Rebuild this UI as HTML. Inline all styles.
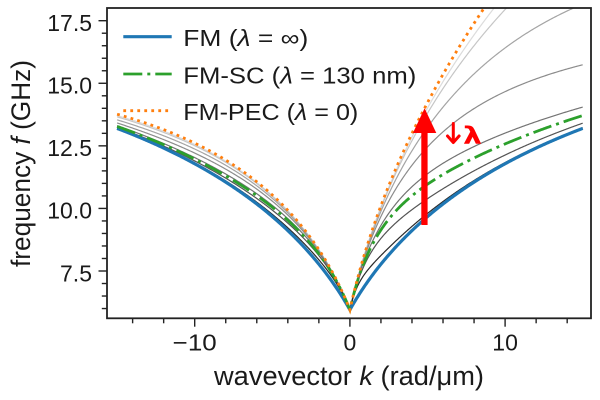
<!DOCTYPE html>
<html><head><meta charset="utf-8"><style>
html,body{margin:0;padding:0;background:#fff;}
svg{display:block;}
text{font-family:"Liberation Sans","DejaVu Sans",sans-serif;fill:#1a1a1a;}
</style></head><body>
<svg id="s" width="600" height="400" viewBox="0 0 600 400" xmlns="http://www.w3.org/2000/svg">
<defs><clipPath id="cp"><rect x="107" y="8" width="484" height="310.3"/></clipPath></defs>
<rect width="600" height="400" fill="#fff"/>
<g id="curves" fill="none" clip-path="url(#cp)"></g>
<!-- arrow -->
<rect x="421.3" y="131" width="6.3" height="94" fill="#ff0000"/>
<polygon points="412.9,133 436.3,133 424.6,108.3" fill="#ff0000"/>
<g stroke="#ff0000" stroke-width="3" fill="none" stroke-linecap="round" stroke-linejoin="round">
<line x1="453.3" y1="123.5" x2="453.3" y2="142"/>
<polyline points="447.5,136 453.3,142.5 459.1,136"/>
</g>
<text x="463" y="144" font-size="24" font-weight="bold" style="fill:#ff0000;font-family:'DejaVu Sans',sans-serif" textLength="19" lengthAdjust="spacingAndGlyphs">λ</text>
<!-- frame -->
<rect x="107" y="8" width="484" height="310.3" fill="none" stroke="#222" stroke-width="1.8"/>
<g id="ticks" stroke="#222" stroke-width="1.4"></g>
<!-- y tick labels -->
<g font-size="23" text-anchor="end">
<text x="92" y="31">17.5</text>
<text x="92" y="93.6">15.0</text>
<text x="92" y="156.2">12.5</text>
<text x="92" y="218.7">10.0</text>
<text x="92" y="281.3">7.5</text>
</g>
<!-- x tick labels -->
<g font-size="23" text-anchor="middle">
<text x="194.7" y="350.7" textLength="44" lengthAdjust="spacingAndGlyphs">−10</text>
<text x="349.9" y="350.7">0</text>
<text x="505.1" y="350.7">10</text>
</g>
<!-- axis labels -->
<text x="349" y="385" font-size="27" text-anchor="middle" textLength="270" lengthAdjust="spacingAndGlyphs">wavevector <tspan font-style="italic">k</tspan> (rad/μm)</text>
<text transform="translate(30,163.5) rotate(-90)" font-size="27" text-anchor="middle" textLength="207" lengthAdjust="spacingAndGlyphs">frequency <tspan font-style="italic">f</tspan> (GHz)</text>
<!-- legend -->
<line x1="123.3" y1="36.7" x2="171.7" y2="36.7" stroke="#1f77b4" stroke-width="3.2"/>
<line x1="123.3" y1="74" x2="171.7" y2="74" stroke="#2ca02c" stroke-width="2.8" stroke-dasharray="19 5 3 5"/>
<line x1="123.3" y1="110.7" x2="171.7" y2="110.7" stroke="#ff7f0e" stroke-width="2.8" stroke-dasharray="2.8 4.2"/>
<g font-size="23">
<text x="183.3" y="46" textLength="125" lengthAdjust="spacingAndGlyphs">FM (<tspan font-style="italic">λ</tspan> = ∞)</text>
<text x="183.3" y="83.3" textLength="233" lengthAdjust="spacingAndGlyphs">FM-SC (<tspan font-style="italic">λ</tspan> = 130 nm)</text>
<text x="183.3" y="120" textLength="175" lengthAdjust="spacingAndGlyphs">FM-PEC (<tspan font-style="italic">λ</tspan> = 0)</text>
</g>
</svg>
<script>
(function(){
var NS="http://www.w3.org/2000/svg";
var X=function(k){return 349.9+15.52*k;}, Y=function(f){return 20.7+(17.5-f)*25.03;};
function fm2(k){return 35.4+263*(1-Math.exp(-Math.abs(k)/20));}
function pec2(k){return k>=0?35.4+33.4*k:35.4+207*(1-Math.exp(k/11));}
function lam2(k,l){
  if(l===0) return pec2(k);
  if(l===Infinity) return fm2(k);
  var a=Math.abs(k), il=1/l, q=Math.sqrt(a*a+il*il), r=(q-a)/(q+a);
  var w=Math.pow(r, k>=0?1.15:0.7);
  return fm2(k)+w*(pec2(k)-fm2(k));
}
function path(l){
  var d="";
  for(var i=-300;i<=300;i++){
    var k=i/20, f=Math.sqrt(lam2(k,l));
    var y=Y(f); if(y<-50) y=-50;
    d+=(i===-300?"M":"L")+X(k).toFixed(2)+","+y.toFixed(2);
  }
  return d;
}
var g=document.getElementById("curves");
function add(l,attrs){
  var p=document.createElementNS(NS,"path");
  p.setAttribute("d",path(l));
  for(var a in attrs) p.setAttribute(a,attrs[a]);
  g.appendChild(p);
}
var grays=[[0.005,"#dcdcdc"],[0.01,"#c6c6c6"],[0.025,"#a4a4a4"],[0.05,"#8c8c8c"],[0.1,"#737373"],[0.2,"#545454"],[0.5,"#2a2a2a"]];
grays.forEach(function(gg){add(gg[0],{stroke:gg[1],"stroke-width":"1.2"});});
add(Infinity,{stroke:"#1f77b4","stroke-width":"3.2"});
add(0.13,{stroke:"#2ca02c","stroke-width":"2.8","stroke-dasharray":"19 5 3 5"});
add(0,{stroke:"#ff7f0e","stroke-width":"2.8","stroke-dasharray":"2.8 4.2"});
// ticks
var t=document.getElementById("ticks");
function line(x1,y1,x2,y2){var l=document.createElementNS(NS,"line");l.setAttribute("x1",x1);l.setAttribute("y1",y1);l.setAttribute("x2",x2);l.setAttribute("y2",y2);t.appendChild(l);}
for(var i=12;i<=35;i++){var f=i/2, y=Y(f); var major=(Math.abs(f/2.5-Math.round(f/2.5))<1e-6); line(major?98.5:101.8,y,107,y);}
for(var k=-14;k<=14;k+=2){var x=X(k); var major=(k%10===0); line(x,318.3,x,major?326.7:323.3);}
})();
</script>
</body></html>
